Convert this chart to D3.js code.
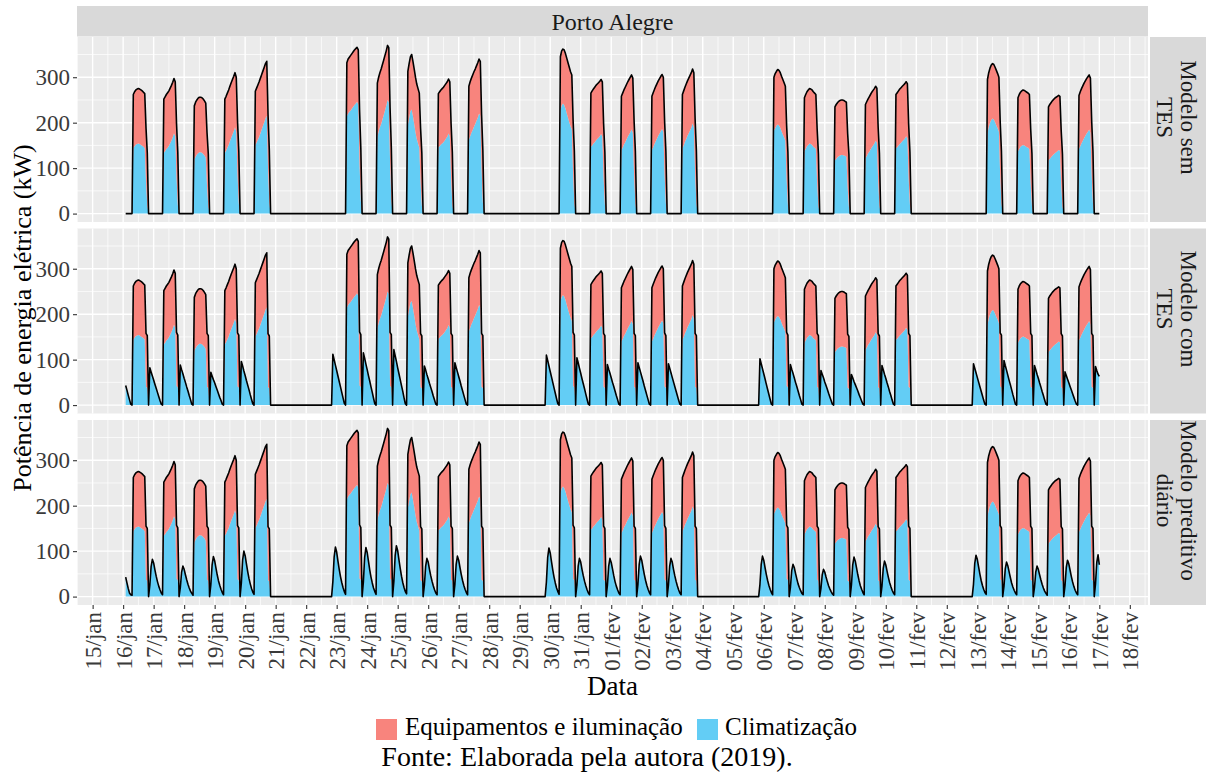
<!DOCTYPE html>
<html><head><meta charset="utf-8">
<script src="https://cdn.jsdelivr.net/npm/d3@7"></script>
<style>
body{margin:0;background:#fff;}
svg text{font-family:"Liberation Serif","Times New Roman",serif;}
</style></head><body>
<svg id="chart" width="1209" height="774"></svg>
<script>
// ---------------- DATA ----------------
const cidade = "Porto Alegre";
const rotulosPainel = [["Modelo sem","TES"],["Modelo com","TES"],["Modelo preditivo","diário"]];
const nomesSeries = ["Equipamentos e iluminação","Climatização"];
const inicio = "2019-01-16T02:00Z";
const fim = "2019-02-17T00:00Z";
const rotulosX = ["15/jan","16/jan","17/jan","18/jan","19/jan","20/jan","21/jan","22/jan","23/jan","24/jan","25/jan","26/jan","27/jan","28/jan","29/jan","30/jan","31/jan","01/fev","02/fev","03/fev","04/fev","05/fev","06/fev","07/fev","08/fev","09/fev","10/fev","11/fev","12/fev","13/fev","14/fev","15/fev","16/fev","17/fev","18/fev"];
const datasTicks = ["2019-01-15","2019-01-16","2019-01-17","2019-01-18","2019-01-19","2019-01-20","2019-01-21","2019-01-22","2019-01-23","2019-01-24","2019-01-25","2019-01-26","2019-01-27","2019-01-28","2019-01-29","2019-01-30","2019-01-31","2019-02-01","2019-02-02","2019-02-03","2019-02-04","2019-02-05","2019-02-06","2019-02-07","2019-02-08","2019-02-09","2019-02-10","2019-02-11","2019-02-12","2019-02-13","2019-02-14","2019-02-15","2019-02-16","2019-02-17","2019-02-18"];
const ticksY = [0,100,200,300];

// dias com expediente
const diasUteis = ["2019-01-16","2019-01-17","2019-01-18","2019-01-19","2019-01-20",
  "2019-01-23","2019-01-24","2019-01-25","2019-01-26","2019-01-27",
  "2019-01-30","2019-01-31","2019-02-01","2019-02-02","2019-02-03",
  "2019-02-06","2019-02-07","2019-02-08","2019-02-09","2019-02-10",
  "2019-02-13","2019-02-14","2019-02-15","2019-02-16"];
const horasExpediente = [8,9,10,11,12,13,14,15,16,17,18,19];
// Equipamentos e iluminação (kW), horas 8..19
const equipamentos = [118,120,120,121,121,121,121,121,120,120,118,115];
// Climatização sem TES (kW), horas 8..19, por dia útil
const climSemTES = [
  [144,148,152,153,154,153,151,149,147,144,70,18],
  [134,137,142,145,149,155,161,168,177,170,80,20],
  [119,125,130,133,135,135,134,131,128,123,60,16],
  [134,138,145,151,159,167,174,181,190,180,85,22],
  [151,156,163,169,177,185,193,201,210,215,100,25],
  [214,220,224,227,231,235,239,242,246,240,110,28],
  [169,180,190,197,207,217,227,237,250,245,115,30],
  [195,210,225,229,214,197,179,164,155,145,70,18],
  [146,148,152,154,157,161,165,169,176,170,80,20],
  [162,170,178,184,191,197,204,211,220,215,100,25],
  [227,238,242,239,231,221,211,201,192,185,88,22],
  [147,150,154,157,161,164,167,170,175,170,80,20],
  [140,145,152,157,163,169,174,179,185,178,85,22],
  [140,146,153,159,165,171,176,181,186,180,85,22],
  [144,150,158,164,171,177,183,189,198,190,90,23],
  [182,188,193,196,194,189,181,174,168,160,75,20],
  [137,142,148,151,154,153,151,147,145,142,68,17],
  [117,120,124,126,128,129,129,128,127,125,58,15],
  [122,126,132,136,141,146,150,154,160,156,72,18],
  [144,146,150,153,156,159,162,165,170,166,78,20],
  [177,190,200,206,209,207,201,194,188,180,85,22],
  [137,142,147,149,151,150,148,146,145,142,68,17],
  [117,120,124,127,130,133,135,137,140,138,65,16],
  [142,148,155,160,166,171,176,180,185,178,85,22]
];
// Climatização nas horas 18 e 19 (descarga do TES)
const climPicoComTES = [[40,38],[42,39],[40,38],[41,39],[39,37],[43,40],[42,40],[39,37],[40,38],[40,38],[42,39],[40,38],[40,38],[41,38],[40,38],[42,39],[40,38],[38,36],[39,37],[40,38],[41,39],[40,38],[39,37],[40,38]];
const climPicoPreditivo = [[37,35],[39,36],[37,35],[38,36],[36,34],[40,37],[39,37],[36,34],[37,35],[37,35],[39,36],[37,35],[37,35],[38,35],[37,35],[39,36],[37,35],[35,33],[36,34],[37,35],[38,36],[37,35],[36,34],[37,35]];
// Carga noturna do TES (climatização), véspera de cada dia útil: horas 21,22,23,0,1,...
const diasCarga = diasUteis.concat(["2019-02-17"]);
const cargaComTES = [
  [null,null,null,null,null,43,33,22,12,2],
  [82,73,64,55,46,37,28,19,10,2],
  [88,78,69,59,50,40,31,21,12,2],
  [72,64,56,49,41,33,25,17,10,2],
  [96,86,75,65,54,44,34,23,13,3],
  [112,100,88,76,64,52,40,28,16,4],
  [115,103,90,78,65,53,40,28,15,3],
  [122,109,96,82,69,56,43,30,16,3],
  [86,77,67,58,48,39,30,20,11,2],
  [93,83,73,63,53,42,32,22,12,2],
  [110,98,86,74,62,50,38,26,14,3],
  [104,93,81,70,58,47,36,24,13,2],
  [89,79,70,60,50,41,31,21,12,2],
  [93,83,73,63,53,42,32,22,12,2],
  [91,81,71,61,51,41,31,21,11,2],
  [102,91,80,69,58,46,35,24,13,2],
  [89,79,70,60,50,41,31,21,12,2],
  [76,68,60,51,43,35,26,18,10,2],
  [67,60,52,45,38,31,23,16,9,2],
  [87,78,68,59,49,40,30,21,11,2],
  [91,81,71,61,51,41,31,21,11,2],
  [98,87,77,66,55,45,34,23,13,2],
  [87,78,68,59,49,40,30,21,11,2],
  [73,65,57,49,41,33,25,17,9,2],
  [85,76,68,63]
];
const cargaPreditivo = [
  [null,null,null,null,null,43,30,18,8,4,3],
  [25,66,82,74,59,45,33,23,15,8,4],
  [20,54,67,60,48,37,27,19,12,7,3],
  [26,70,88,79,63,48,35,25,16,9,4],
  [30,80,100,90,72,55,40,28,18,10,5],
  [33,87,109,98,78,60,44,31,20,11,5],
  [32,86,108,97,78,59,43,30,19,11,5],
  [34,90,112,101,81,62,45,31,20,11,6],
  [25,67,84,76,60,46,34,24,15,8,4],
  [27,71,89,80,64,49,36,25,16,9,4],
  [32,86,107,96,77,59,43,30,19,11,5],
  [25,67,84,76,60,46,34,24,15,8,4],
  [25,67,84,75,61,46,33,23,15,8,4],
  [27,71,89,80,64,49,36,25,16,9,4],
  [25,67,84,76,60,46,34,24,15,8,4],
  [27,71,89,80,64,49,36,25,16,9,4],
  [21,57,71,64,51,39,28,20,13,7,4],
  [18,48,60,54,43,33,24,17,11,6,3],
  [26,70,87,78,63,48,35,24,16,9,4],
  [23,62,78,70,56,43,31,22,14,8,4],
  [27,73,91,82,66,50,36,25,16,9,5],
  [23,61,76,68,55,42,30,21,14,8,4],
  [20,54,67,60,48,37,27,19,12,7,3],
  [24,64,80,72,58,44,32,22,14,8,4],
  [28,75,92,70]
];

// ---------------- BUILD ----------------
const H = 3600e3;
const t0 = Date.parse(inicio), t1 = Date.parse(fim);
const n = Math.round((t1 - t0) / H) + 1;

function construir(painel) {
  const rows = d3.range(n).map(i => ({t: new Date(t0 + i * H), clim: 0, equip: 0}));
  const idx = ms => Math.round((ms - t0) / H);
  diasUteis.forEach((dia, k) => {
    const base = Date.parse(dia + "T00:00Z");
    horasExpediente.forEach((h, j) => {
      const i = idx(base + h * H);
      if (i < 0 || i >= n) return;
      let c = climSemTES[k][j];
      if (painel === 1 && h >= 18) c = climPicoComTES[k][h - 18];
      if (painel === 2 && h >= 18) c = climPicoPreditivo[k][h - 18];
      rows[i].clim = c;
      rows[i].equip = equipamentos[j];
    });
  });
  if (painel > 0) {
    const carga = painel === 1 ? cargaComTES : cargaPreditivo;
    diasCarga.forEach((dia, k) => {
      const base = Date.parse(dia + "T00:00Z");
      carga[k].forEach((v, j) => {
        if (v === null) return;
        const i = idx(base + (j - 3) * H);
        if (i >= 0 && i < n) rows[i].clim = v;
      });
    });
  }
  return rows;
}
const dados = [0,1,2].map(construir);

// ---------------- LAYOUT ----------------
const svg = d3.select("#chart");
const L = 77, R = 1148;
const tops = [37, 228.5, 420], PH = 185;
const corVermelho = "#F8847D", corAzul = "#63CDF5";

const span = t1 - t0;
const x = d3.scaleUtc().domain([new Date(t0 - 0.05 * span), new Date(t1 + 0.05 * span)]).range([L, R]);
const maxT = d3.max(dados.flat(), d => d.clim + d.equip);
const ydom = [-0.05 * maxT, 1.05 * maxT];

const ticksX = datasTicks.map(s => new Date(s + "T00:00Z"));
const minorX = d3.range(-1, datasTicks.length).map(i => new Date(Date.parse("2019-01-15T12:00Z") + i * 24 * H))
  .filter(d => x(d) >= L && x(d) <= R);

// top strip
svg.append("rect").attr("x", L).attr("y", 6).attr("width", R - L).attr("height", 30.5).attr("fill", "#D9D9D9");
svg.append("text").attr("x", (L + R) / 2).attr("y", 21.5).attr("dy", "0.35em").attr("text-anchor", "middle")
  .attr("font-size", 24).attr("fill", "#1a1a1a").text(cidade);

const stack = d3.stack().keys(["clim", "equip"]);

dados.forEach((rows, p) => {
  const top = tops[p];
  const y = d3.scaleLinear().domain(ydom).range([top + PH, top]);
  const g = svg.append("g");
  const clipId = "clip" + p;
  svg.append("clipPath").attr("id", clipId).append("rect").attr("x", L).attr("y", top).attr("width", R - L).attr("height", PH);
  g.append("rect").attr("x", L).attr("y", top).attr("width", R - L).attr("height", PH).attr("fill", "#EBEBEB");
  // minor grid
  [50, 150, 250, 350].forEach(v => g.append("line").attr("x1", L).attr("x2", R).attr("y1", y(v)).attr("y2", y(v))
    .attr("stroke", "#fff").attr("stroke-width", 0.7));
  minorX.forEach(d => g.append("line").attr("x1", x(d)).attr("x2", x(d)).attr("y1", top).attr("y2", top + PH)
    .attr("stroke", "#fff").attr("stroke-width", 0.7));
  // major grid
  ticksY.forEach(v => g.append("line").attr("x1", L).attr("x2", R).attr("y1", y(v)).attr("y2", y(v))
    .attr("stroke", "#fff").attr("stroke-width", 1.4));
  ticksX.forEach(d => g.append("line").attr("x1", x(d)).attr("x2", x(d)).attr("y1", top).attr("y2", top + PH)
    .attr("stroke", "#fff").attr("stroke-width", 1.4));

  const layers = stack(rows);
  const area = d3.area().x(d => x(d.data.t)).y0(d => y(d[0])).y1(d => y(d[1]));
  const pg = g.append("g").attr("clip-path", `url(#${clipId})`);
  pg.selectAll("path.a").data(layers).join("path").attr("class", "a")
    .attr("d", area).attr("fill", (d, i) => i === 0 ? corAzul : corVermelho);
  const line = d3.line().x(d => x(d.t)).y(d => y(d.clim + d.equip));
  pg.append("path").datum(rows).attr("d", line).attr("fill", "none").attr("stroke", "#000").attr("stroke-width", 1.6)
    .attr("stroke-linejoin", "round");

  // y axis
  const ay = svg.append("g").attr("transform", `translate(${L},0)`)
    .call(d3.axisLeft(y).tickValues(ticksY).tickSize(4).tickPadding(3).tickFormat(d3.format("d")));
  ay.select(".domain").remove();
  ay.selectAll("line").attr("stroke", "#333").attr("stroke-width", 1.1);
  ay.selectAll("text").attr("font-size", 23).attr("fill", "#3a3a3a").attr("font-family", "Liberation Serif");

  // right strip
  const sx = 1150, sw = 56;
  svg.append("rect").attr("x", sx).attr("y", top).attr("width", sw).attr("height", PH).attr("fill", "#D9D9D9");
  const st = svg.append("text").attr("transform", `translate(${sx + sw / 2},${top + PH / 2 - 12}) rotate(90)`)
    .attr("text-anchor", "middle").attr("font-size", 23).attr("fill", "#1a1a1a");
  st.append("tspan").attr("x", 0).attr("y", -3).text(rotulosPainel[p][0]);
  st.append("tspan").attr("x", 0).attr("y", 21).text(rotulosPainel[p][1]);

  if (p === 2) {
    const ax = svg.append("g").attr("transform", `translate(0,${top + PH})`)
      .call(d3.axisBottom(x).tickValues(ticksX).tickSize(4).tickFormat((d, i) => rotulosX[i]));
    ax.select(".domain").remove();
    ax.selectAll("line").attr("stroke", "#333").attr("stroke-width", 1.1);
    ax.selectAll("text").attr("font-size", 23).attr("fill", "#3a3a3a").attr("font-family", "Liberation Serif")
      .attr("text-anchor", "end").attr("transform", "rotate(-90)").attr("x", -7).attr("y", 0).attr("dy", "0.35em");
  }
});

// axis titles
svg.append("text").attr("x", (L + R) / 2).attr("y", 695).attr("text-anchor", "middle").attr("font-size", 27).attr("fill", "#000").text("Data");
svg.append("text").attr("transform", "translate(31,318) rotate(-90)").attr("text-anchor", "middle").attr("font-size", 26).attr("fill", "#000")
  .text("Potência de energia elétrica (kW)");

// legend
const leg = [{nome: nomesSeries[0], cor: corVermelho, x: 376, tx: 405}, {nome: nomesSeries[1], cor: corAzul, x: 697, tx: 725}];
leg.forEach(l => {
  svg.append("rect").attr("x", l.x).attr("y", 719).attr("width", 21).attr("height", 21).attr("fill", l.cor);
  svg.append("text").attr("x", l.tx).attr("y", 735).attr("font-size", 25).attr("fill", "#000").text(l.nome);
});
svg.append("text").attr("x", 587).attr("y", 766).attr("text-anchor", "middle").attr("font-size", 28).attr("fill", "#000")
  .text("Fonte: Elaborada pela autora (2019).");
</script>
</body></html>
